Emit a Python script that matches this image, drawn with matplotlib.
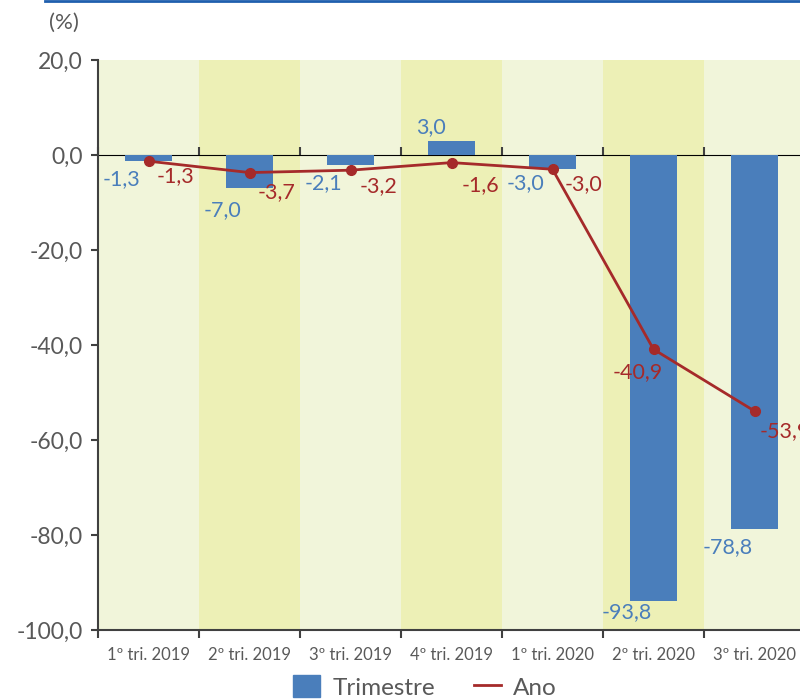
import matplotlib.pyplot as plt
import numpy as np
from matplotlib.lines import Line2D
from matplotlib.patches import Patch

plt.rcParams['font.family'] = ['Lato', 'DejaVu Sans']

trimestres = ["1º tri. 2019", "2º tri. 2019", "3º tri. 2019", "4º tri. 2019",
              "1º tri. 2020", "2º tri. 2020", "3º tri. 2020"]
var_trimestre = [-1.3, -7.0, -2.1, 3.0, -3.0, -93.8, -78.8]
var_ano = [-1.3, -3.7, -3.2, -1.6, -3.0, -40.9, -53.9]

# deslocamento dos rótulos em pixels (x, y)
desloc_tri = [(-27, -18), (-27, -22), (-27, -18), (-21, 14), (-27, -14), (-27, -12), (-27, -18)]
desloc_ano = [(27, -15), (27, -20), (28, -16), (29, -22), (31, -15), (-16, -23), (30, -20)]

azul = "#4a7ebb"
vermelho = "#a52a2a"
cinza = "#595959"
faixa_clara = "#f1f5da"
faixa_escura = "#edf0b6"

fig = plt.figure(figsize=(8, 6.99), dpi=100)
ax = fig.add_axes([98 / 800, 1 - 630 / 699, 707 / 800, 570 / 699])

x = np.arange(len(trimestres))

# faixas de fundo alternadas
for i in x:
    ax.axvspan(i - 0.5, i + 0.5, color=faixa_escura if i % 2 else faixa_clara, lw=0, zorder=0)

ax.bar(x, var_trimestre, width=0.46, color=azul, zorder=2)
ax.plot(x, var_ano, color=vermelho, lw=2, marker='o', ms=7, zorder=3)

fmt = lambda v: f"{v:.1f}".replace('.', ',')
for i in x:
    dx, dy = desloc_tri[i]
    ax.annotate(fmt(var_trimestre[i]), (i, var_trimestre[i]), xytext=(dx, dy),
                textcoords='offset pixels', ha='center', va='center',
                color=azul, fontsize=15.5, zorder=4)
    dx, dy = desloc_ano[i]
    ax.annotate(fmt(var_ano[i]), (i, var_ano[i]), xytext=(dx, dy),
                textcoords='offset pixels', ha='center', va='center',
                color=vermelho, fontsize=15.5, zorder=4, annotation_clip=False)

ax.set_xlim(-0.5, len(trimestres) - 0.5)
ax.set_ylim(-100, 20)
ax.set_yticks(np.arange(-100, 21, 20))
ax.set_yticklabels([fmt(v) for v in np.arange(-100, 21, 20)])

ax.set_xticks(np.arange(-0.5, len(trimestres)), labels=[])
ax.set_xticks(x, minor=True)
ax.set_xticklabels(trimestres, minor=True)
ax.tick_params(axis='x', which='minor', length=0, pad=12, labelsize=12, labelcolor=cinza)
ax.tick_params(axis='x', which='major', length=6, width=1.5, color='#404040', direction='out')
ax.tick_params(axis='y', length=5, width=1.5, color='#404040', labelsize=16.5, labelcolor=cinza, pad=6)

for lado in ['top', 'right']:
    ax.spines[lado].set_visible(False)
for lado in ['left', 'bottom']:
    ax.spines[lado].set_color('#404040')
    ax.spines[lado].set_linewidth(1.5)

# linha do zero com marcas entre trimestres
eixo_zero = ax.secondary_xaxis(100 / 120)
eixo_zero.set_xticks(np.arange(-0.5, len(trimestres)), labels=[])
eixo_zero.tick_params(length=6, width=1.5, color='#404040', direction='out')
eixo_zero.spines['bottom'].set_color('#404040')
eixo_zero.spines['bottom'].set_linewidth(1.5)

fig.text(64 / 800, 1 - 23 / 699, "(%)", ha='center', va='center', fontsize=16, color=cinza)

fig.add_artist(Line2D([45 / 800, 1], [1 - 1 / 699, 1 - 1 / 699], color='#1f5fae', lw=2,
                      transform=fig.transFigure))

handles = [Patch(color=azul, label="Trimestre"), Line2D([0], [0], color=vermelho, lw=2, label="Ano")]
fig.legend(handles=handles, loc='center', bbox_to_anchor=(425 / 800, 1 - 687 / 699),
           ncol=2, frameon=False, fontsize=17.5, labelcolor=cinza, handlelength=1.1,
           handleheight=1.0, columnspacing=1.6, handletextpad=0.5)

fig.savefig("out.png", dpi=100)
